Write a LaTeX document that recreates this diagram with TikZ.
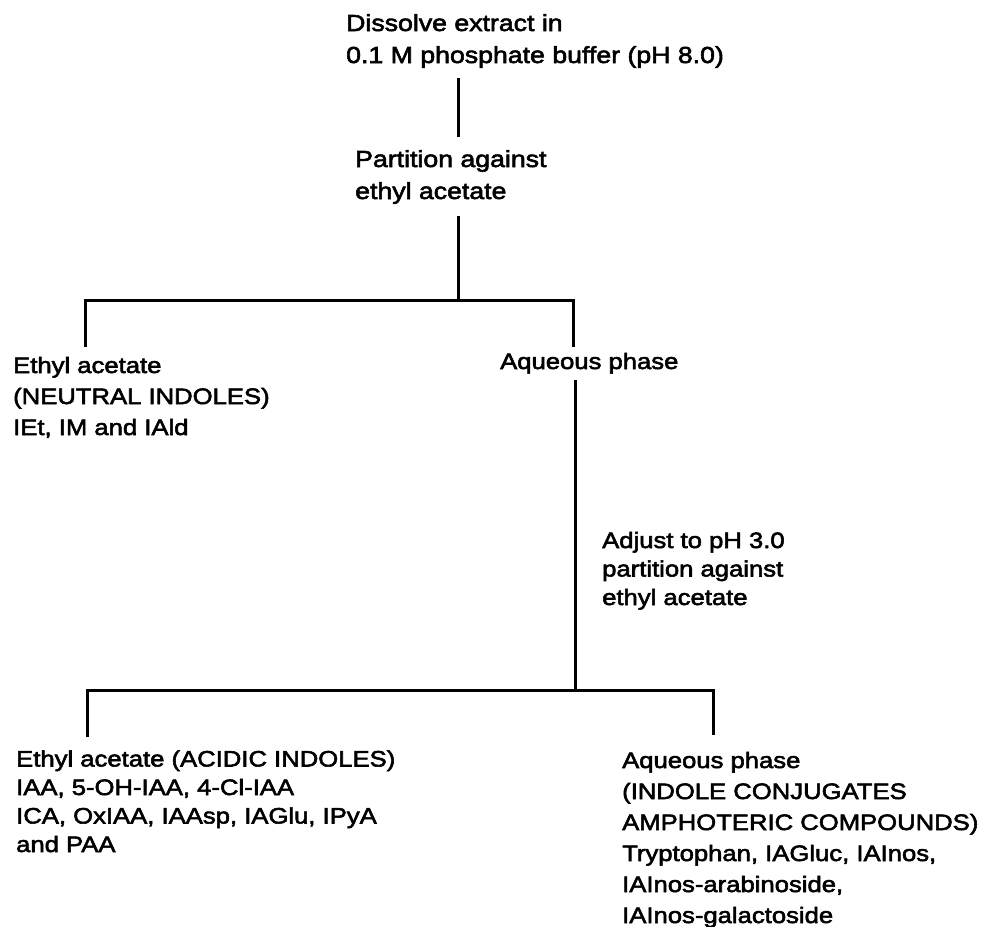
\documentclass[tikz,border=0pt]{standalone}
\usepackage{fontspec}
\setmainfont[FakeStretch=1.15,FakeBold=2.5]{Liberation Sans}
\begin{document}
\begin{tikzpicture}[x=1pt,y=-1pt,
  txt/.style={anchor=base west, inner sep=0pt, align=left, font=\fontsize{22.3}{31}\selectfont},
  txttop/.style={txt, font=\fontsize{23.2}{32}\selectfont},
  txtb/.style={txt, font=\fontsize{22.3}{28.5}\selectfont},
  ln/.style={line width=3pt}]
\useasboundingbox (0,0) rectangle (982,926);
% text nodes (anchored at the baseline of their last line)
\node[txttop] (dis) at (346,63) {Dissolve extract in\\0.1 M phosphate buffer (pH 8.0)};
\node[txttop] (part) at (355,199) {Partition against\\ethyl acetate};
\node[txt] (ethA) at (13,435) {Ethyl acetate\\(NEUTRAL INDOLES)\\IEt, IM and IAld};
\node[txt] (aqA) at (500,369) {Aqueous phase};
\node[txtb] (adj) at (602,605) {Adjust to pH 3.0\\partition against\\ethyl acetate};
\node[txtb] (ethB) at (16,852) {Ethyl acetate (ACIDIC INDOLES)\\IAA, 5-OH-IAA, 4-Cl-IAA\\ICA, OxIAA, IAAsp, IAGlu, IPyA\\and PAA};
\node[txt] (aqB) at (622,923) {Aqueous phase\\(INDOLE CONJUGATES\\AMPHOTERIC COMPOUNDS)\\Tryptophan, IAGluc, IAInos,\\IAInos-arabinoside,\\IAInos-galactoside};
% connector end points
\coordinate (d1) at (458,78);
\coordinate (p1) at (458,137);
\coordinate (p2) at (458,216);
\coordinate (j1) at (458,300);
\coordinate (eA) at (85,347);
\coordinate (aA) at (573,347);
\coordinate (aA2) at (575,380);
\coordinate (j2) at (575,690);
\coordinate (eB) at (87,737);
\coordinate (aB) at (713,735);
% connectors
\draw[ln] (d1) -- (p1);
\draw[ln] (p2) -- (j1);
\draw[ln] (eA) -- (eA |- j1) -- (aA |- j1) -- (aA);
\draw[ln] (aA2) -- (j2);
\draw[ln] (eB) -- (eB |- j2) -- (aB |- j2) -- (aB);
\end{tikzpicture}
\end{document}
